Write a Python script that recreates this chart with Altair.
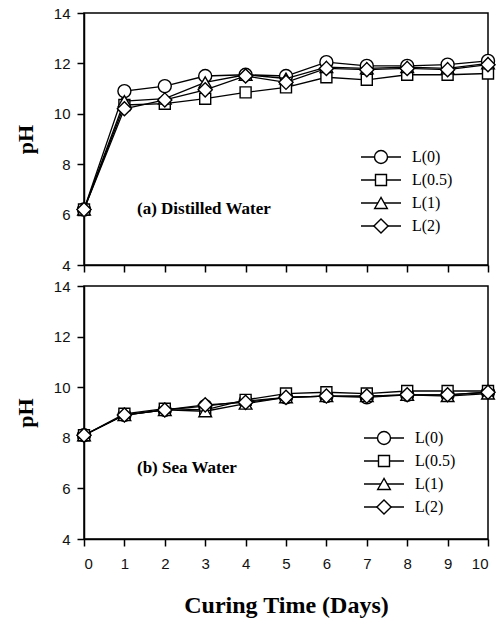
import altair as alt
import pandas as pd

days = list(range(11))
series = ["L(0)", "L(0.5)", "L(1)", "L(2)"]
shapes = ["circle", "square", "triangle-up", "diamond"]
sizes = [169, 121, 160, 200]

distilled = [
    [6.2, 10.9, 11.1, 11.5, 11.55, 11.5, 12.05, 11.9, 11.9, 11.95, 12.1],
    [6.2, 10.35, 10.4, 10.6, 10.85, 11.05, 11.45, 11.35, 11.55, 11.55, 11.6],
    [6.2, 10.5, 10.6, 11.25, 11.55, 11.4, 11.85, 11.8, 11.85, 11.8, 12.0],
    [6.2, 10.2, 10.55, 10.95, 11.5, 11.25, 11.8, 11.75, 11.8, 11.75, 11.95],
]
seawater = [
    [8.1, 8.9, 9.1, 9.25, 9.45, 9.6, 9.65, 9.6, 9.7, 9.7, 9.8],
    [8.1, 8.95, 9.15, 9.1, 9.5, 9.75, 9.8, 9.75, 9.85, 9.85, 9.85],
    [8.1, 8.9, 9.1, 9.05, 9.35, 9.6, 9.65, 9.65, 9.7, 9.65, 9.75],
    [8.1, 8.9, 9.1, 9.3, 9.4, 9.6, 9.65, 9.65, 9.7, 9.7, 9.8],
]
y_ticks = [4, 6, 8, 10, 12, 14]
panel_labels = ["(a) Distilled Water", "(b) Sea Water"]
x_title = "Curing Time (Days)"
y_title = "pH"


def panel(values, height, label, label_y, leg_x, leg_y0, show_x):
    x_axis = alt.Axis(values=days, labels=show_x, title=x_title if show_x else None,
                      titlePadding=22, titleFontSize=24, labelPadding=10)
    X = alt.X("day:Q", scale=alt.Scale(domain=[0, 10], nice=False), axis=x_axis)
    Y = alt.Y("pH:Q", scale=alt.Scale(domain=[4, 14], nice=False, zero=False),
              axis=alt.Axis(values=y_ticks, title=y_title, titleFontSize=22,
                            titlePadding=16, labelPadding=7))
    layers = []
    for i, s in enumerate(series):
        df = pd.DataFrame({"day": days, "pH": values[i], "series": s})
        base = alt.Chart(df)
        layers.append(base.mark_line(color="black", strokeWidth=1.3).encode(x=X, y=Y))
        layers.append(base.mark_point(shape=shapes[i], size=sizes[i], filled=True,
                                      fill="white", stroke="black", strokeWidth=1.4,
                                      opacity=1).encode(x=X, y=Y))
    for i, s in enumerate(series):
        ld = pd.DataFrame({"series": [s]})
        ly = leg_y0 + 23 * i
        lb = alt.Chart(ld)
        layers.append(lb.mark_rule(color="black", strokeWidth=1.3).encode(
            x=alt.value(leg_x - 20), x2=alt.value(leg_x + 20), y=alt.value(ly)))
        layers.append(lb.mark_point(shape=shapes[i], size=sizes[i], filled=True,
                                    fill="white", stroke="black", strokeWidth=1.4,
                                    opacity=1).encode(x=alt.value(leg_x), y=alt.value(ly)))
        layers.append(lb.mark_text(align="left", baseline="middle", font="Liberation Serif",
                                   fontSize=16, color="black").encode(
            x=alt.value(leg_x + 31), y=alt.value(ly), text="series:N"))
    td = pd.DataFrame({"t": [label]})
    layers.append(alt.Chart(td).mark_text(align="left", baseline="middle",
                                          font="Liberation Serif", fontWeight="bold",
                                          fontSize=17, color="black").encode(
        x=alt.value(53), y=alt.value(label_y), text="t:N"))
    return alt.layer(*layers).properties(width=404, height=height)


top = panel(distilled, 252, panel_labels[0], 196, 297, 144, False)
bottom = panel(seawater, 253, panel_labels[1], 182, 300, 152, True)

chart = alt.vconcat(top, bottom, spacing=4).properties(
    padding={"left": 13, "top": 5, "right": 0, "bottom": 0}
).configure_view(stroke="black", strokeWidth=1.5).configure_axis(
    grid=False, domainColor="black", domainWidth=1.5, tickColor="black",
    tickWidth=1.5, tickSize=7, labelFont="Liberation Sans", labelFontSize=15,
    labelColor="#111", titleFont="Liberation Serif", titleFontWeight="bold",
    titleColor="black"
)

chart.save("out.html", embed_options={"renderer": "svg", "actions": False})
